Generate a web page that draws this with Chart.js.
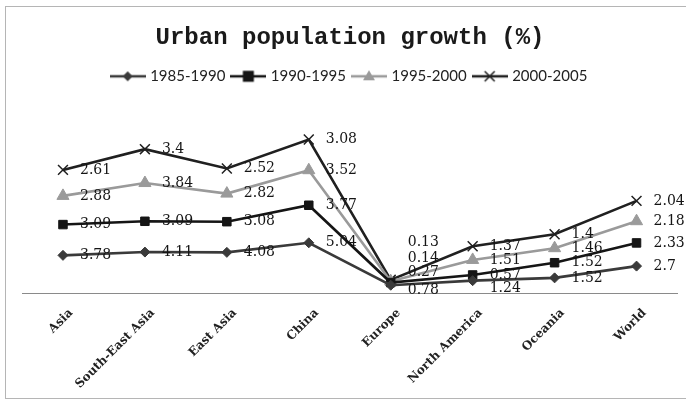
<!DOCTYPE html>
<html><head><meta charset="utf-8">
<script src="https://cdn.jsdelivr.net/npm/chart.js@4.4.1/dist/chart.umd.min.js"></script>
<style>
html,body{margin:0;padding:0;background:#fff;}
#wrap{position:relative;width:686px;height:402px;overflow:hidden;}
#frame{position:absolute;left:5px;top:6px;width:690px;height:393px;border:1px solid #b5b5b5;box-sizing:border-box;pointer-events:none;}
canvas{position:absolute;left:0;top:0;}
</style></head><body>
<div id="wrap"><canvas id="c" width="686" height="402"></canvas><div id="frame"></div></div>
<script>
// ---- data ----
const categories = ['Asia','South-East Asia','East Asia','China','Europe','North America','Oceania','World'];
const seriesNames = ['1985-1990','1990-1995','1995-2000','2000-2005'];
const growth1985_1990 = [3.78, 4.11, 4.08, 5.04, 0.78, 1.24, 1.52, 2.7];
const growth1990_1995 = [3.09, 3.09, 3.08, 3.77, 0.27, 0.57, 1.52, 2.33];
const growth1995_2000 = [2.88, 3.84, 2.82, 3.52, 0.14, 1.51, 1.46, 2.18];
const growth2000_2005 = [2.61, 3.4, 2.52, 3.08, 0.13, 1.37, 1.4, 2.04];

// ---- styles ----
const colors = ['#3a3a3a', '#151515', '#9a9a9a', '#202020'];
const markers = ['rectRot', 'rect', 'triangle', 'crossRot'];
const markerRadius = [5, 6, 7, 7];
// vertical nudges (px) for crowded value labels, by category index then series index
const labelShiftY = {4: [5, -10, -23, -37], 5: [8, 0, 0, 0]};

function legendIcon(i){
  const c = document.createElement('canvas'); c.width = 36; c.height = 16;
  const g = c.getContext('2d');
  g.strokeStyle = colors[i]; g.fillStyle = colors[i]; g.lineWidth = 2.5;
  g.beginPath(); g.moveTo(0, 8); g.lineTo(36, 8); g.stroke();
  const cx = 18, cy = 8;
  g.lineWidth = 1.5;
  g.beginPath();
  if (markers[i] === 'rectRot') { g.moveTo(cx, cy-5); g.lineTo(cx+5, cy); g.lineTo(cx, cy+5); g.lineTo(cx-5, cy); g.closePath(); g.fill(); }
  else if (markers[i] === 'rect') { g.fillRect(cx-5.5, cy-5.5, 11, 11); }
  else if (markers[i] === 'triangle') { g.moveTo(cx, cy-6); g.lineTo(cx+6, cy+4); g.lineTo(cx-6, cy+4); g.closePath(); g.fill(); }
  else { g.moveTo(cx-5, cy-5); g.lineTo(cx+5, cy+5); g.moveTo(cx+5, cy-5); g.lineTo(cx-5, cy+5); g.stroke(); }
  return c;
}

const seriesValues = [growth1985_1990, growth1990_1995, growth1995_2000, growth2000_2005];
const datasets = seriesValues.map((vals, i) => ({
  label: seriesNames[i],
  data: vals,
  borderColor: colors[i],
  backgroundColor: colors[i],
  borderWidth: 2.6,
  pointStyle: markers[i],
  pointRadius: markerRadius[i],
  pointBorderWidth: markers[i] === 'crossRot' ? 1.5 : 1,
  pointBorderColor: colors[i],
  pointBackgroundColor: colors[i],
  fill: false,
  tension: 0
}));

const valueLabels = {
  id: 'valueLabels',
  afterDatasetsDraw(chart) {
    const ctx = chart.ctx;
    ctx.save();
    ctx.font = '14px "DejaVu Serif"';
    ctx.fillStyle = '#151515';
    ctx.textAlign = 'left';
    ctx.textBaseline = 'middle';
    chart.data.datasets.forEach((ds, di) => {
      const meta = chart.getDatasetMeta(di);
      meta.data.forEach((pt, i) => {
        const dy = labelShiftY[i] ? labelShiftY[i][di] : 0;
        ctx.fillText(String(ds.data[i]), pt.x + 17, pt.y + dy);
      });
    });
    ctx.restore();
  }
};

const icons = seriesNames.map((_, i) => legendIcon(i));

new Chart(document.getElementById('c'), {
  type: 'line',
  data: { labels: categories, datasets },
  options: {
    responsive: false,
    animation: false,
    devicePixelRatio: 1,
    layout: { padding: { left: 22, right: 8, top: 0, bottom: 0 } },
    plugins: {
      title: {
        display: true,
        text: 'Urban population growth (%)',
        color: '#1a1a1a',
        font: { family: '"Liberation Mono"', size: 24, weight: 'bold' },
        padding: { top: 24, bottom: 8 }
      },
      legend: {
        display: true,
        labels: {
          usePointStyle: true,
          pointStyleWidth: 30,
          padding: 8,
          color: '#222',
          font: { family: 'Lato', size: 15 },
          generateLabels: (chart) => chart.data.datasets.map((ds, i) => ({
            text: ds.label, pointStyle: icons[i], fillStyle: ds.borderColor,
            strokeStyle: ds.borderColor, lineWidth: 0, hidden: false, datasetIndex: i, fontColor: '#222'
          }))
        }
      },
      tooltip: { enabled: false }
    },
    scales: {
      x: {
        offset: true,
        grid: { display: false, drawTicks: false },
        border: { display: true, color: '#8a8a8a', width: 1 },
        ticks: {
          minRotation: 45, maxRotation: 45, padding: 13, labelOffset: 8, color: '#222',
          font: { family: '"DejaVu Serif"', size: 12, weight: 'bold' }
        },
        afterFit: (scale) => { scale.height = 109; }
      },
      y: {
        stacked: true,
        display: false,
        min: 0,
        max: 20
      }
    }
  },
  plugins: [valueLabels]
});
</script>
</body></html>
